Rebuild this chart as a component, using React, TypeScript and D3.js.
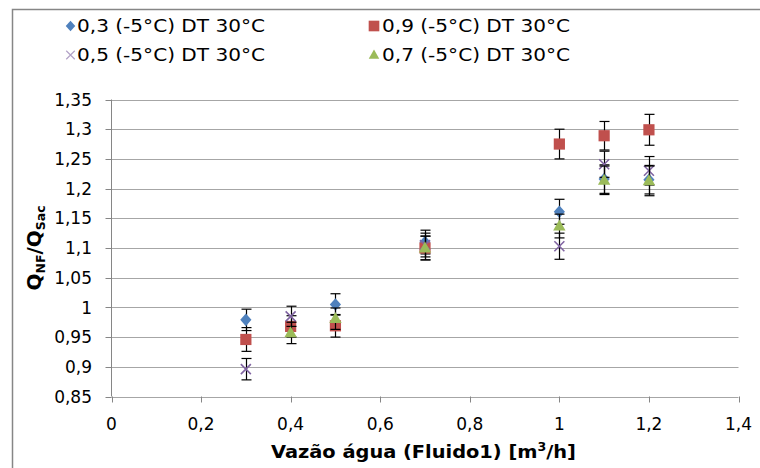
import React from "react";
import * as d3 from "d3";

const yTicks = [0.85, 0.9, 0.95, 1, 1.05, 1.1, 1.15, 1.2, 1.25, 1.3, 1.35];
const xTicks = [0, 0.2, 0.4, 0.6, 0.8, 1, 1.2, 1.4];

const s1X = [0.3, 0.5, 0.7, 1.0, 1.1, 1.2];
const s1Y = [0.979, 1.005, 1.11, 1.161, 1.216, 1.215];
const s1E = [0.018, 0.018, 0.02, 0.021, 0.024, 0.024];

const s2X = [0.3, 0.4, 0.5, 0.7, 1.0, 1.1, 1.2];
const s2Y = [0.946, 0.968, 0.969, 1.1, 1.275, 1.289, 1.299];
const s2E = [0.02, 0.018, 0.019, 0.02, 0.025, 0.024, 0.026];

const s3X = [0.3, 0.4, 0.7, 1.0, 1.1, 1.2];
const s3Y = [0.896, 0.985, 1.105, 1.103, 1.241, 1.23];
const s3E = [0.018, 0.017, 0.02, 0.022, 0.022, 0.024];

const s4X = [0.4, 0.5, 0.7, 1.0, 1.1, 1.2];
const s4Y = [0.957, 0.981, 1.1, 1.137, 1.214, 1.213];
const s4E = [0.018, 0.018, 0.02, 0.02, 0.024, 0.025];

const seriesNames = ["0,3 (-5°C) DT 30°C", "0,9 (-5°C) DT 30°C", "0,5 (-5°C) DT 30°C", "0,7 (-5°C) DT 30°C"];
const seriesColors = ["#4F81BD", "#C0504D", "#8064A2", "#9BBB59"];
const seriesShapes = ["diamond", "square", "x", "triangle"];

const fmt = (v: number) => String(+v.toFixed(2)).replace(".", ",");

function Marker({ shape, color, cx, cy, s = 1, sw = 1.6 }: any) {
  if (shape === "diamond") {
    const h = 6.3 * s, w = 5.6 * s;
    return <path d={`M${cx},${cy - h}L${cx + w},${cy}L${cx},${cy + h}L${cx - w},${cy}Z`} fill={color} />;
  }
  if (shape === "square") {
    const h = 5.6 * s;
    return <rect x={cx - h} y={cy - h} width={2 * h} height={2 * h} fill={color} />;
  }
  if (shape === "triangle") {
    const w = 6.2 * s, h = 11 * s;
    return <path d={`M${cx},${cy - h * 0.6}L${cx + w},${cy + h * 0.4}L${cx - w},${cy + h * 0.4}Z`} fill={color} />;
  }
  const r = 5 * s;
  return (
    <path d={`M${cx - r},${cy - r}L${cx + r},${cy + r}M${cx + r},${cy - r}L${cx - r},${cy + r}`} stroke={color} strokeWidth={sw} fill="none" />
  );
}

export default function App() {
  const W = 760, H = 468;
  const x = d3.scaleLinear().domain([0, 1.4]).range([111.5, 738.5]);
  const y = d3.scaleLinear().domain([0.85, 1.35]).range([396.5, 99.5]);
  const font = "'DejaVu Sans', Verdana, sans-serif";

  const series = [
    { xs: s1X, ys: s1Y, es: s1E },
    { xs: s2X, ys: s2Y, es: s2E },
    { xs: s3X, ys: s3Y, es: s3E },
    { xs: s4X, ys: s4Y, es: s4E },
  ];

  const legendPos = [
    [70.5, 26],
    [374, 26],
    [70.5, 55],
    [374, 55],
  ];

  return (
    <svg width={W} height={H} style={{ position: "absolute", left: 0, top: 0 }} fontFamily={font}>
      <rect x={0} y={0} width={W} height={H} fill="#fff" />
      <rect x={12.5} y={9.5} width={W + 10} height={H + 10} fill="none" stroke="#868686" strokeWidth={1.5} />

      {/* gridlines */}
      {yTicks.map((t) => (
        <line key={"g" + t} x1={x(0)} x2={x(1.4)} y1={Math.round(y(t)) + 0.5} y2={Math.round(y(t)) + 0.5} stroke="#a6a6a6" strokeWidth={1} />
      ))}
      {/* y axis */}
      <line x1={x(0)} x2={x(0)} y1={y(1.35)} y2={y(0.85)} stroke="#868686" />
      {yTicks.map((t) => (
        <line key={"yt" + t} x1={x(0) - 6} x2={x(0)} y1={Math.round(y(t)) + 0.5} y2={Math.round(y(t)) + 0.5} stroke="#868686" />
      ))}
      {xTicks.map((t) => (
        <line key={"xt" + t} x1={Math.round(x(t)) + 0.5} x2={Math.round(x(t)) + 0.5} y1={y(0.85)} y2={y(0.85) + 6} stroke="#868686" />
      ))}

      {yTicks.map((t) => (
        <text key={"yl" + t} x={92} y={y(t)} dy="0.36em" textAnchor="end" fontSize={17} fill="#000">
          {fmt(t)}
        </text>
      ))}
      {xTicks.map((t) => (
        <text key={"xl" + t} x={x(t)} y={430} textAnchor="middle" fontSize={17} fill="#000">
          {fmt(t)}
        </text>
      ))}

      {/* axis titles */}
      <text x={271} y={458} fontSize={18.5} fontWeight="bold" fill="#000" textLength={305} lengthAdjust="spacingAndGlyphs">
        Vazão água (Fluido1) [m<tspan dy={-7} fontSize={12}>3</tspan><tspan dy={7}>/h]</tspan>
      </text>
      <text transform="translate(41,248) rotate(-90)" textAnchor="middle" fontSize={20} fontWeight="bold" fill="#000">
        Q<tspan fontSize={12.5} dy={4}>NF</tspan><tspan dy={-4}>/Q</tspan><tspan fontSize={12.5} dy={4}>Sac</tspan>
      </text>

      {/* series */}
      {series.map((s, i) => (
        <g key={"s" + i}>
          {s.xs.map((xv, j) => {
            const cx = Math.round(x(xv)) + 0.5;
            const top = y(s.ys[j] + s.es[j]);
            const bot = y(s.ys[j] - s.es[j]);
            return (
              <g key={j} stroke="#000" strokeWidth={1.2}>
                <line x1={cx} x2={cx} y1={top} y2={bot} />
                <line x1={cx - 5} x2={cx + 5} y1={top} y2={top} />
                <line x1={cx - 5} x2={cx + 5} y1={bot} y2={bot} />
              </g>
            );
          })}
          {s.xs.map((xv, j) => (
            <Marker key={"m" + j} shape={seriesShapes[i]} color={seriesColors[i]} cx={x(xv)} cy={y(s.ys[j])} />
          ))}
        </g>
      ))}

      {/* legend */}
      {seriesNames.map((n, i) => (
        <g key={"l" + i}>
          <Marker shape={seriesShapes[i]} color={i === 2 ? "#b3a2c7" : seriesColors[i]} cx={legendPos[i][0]} cy={legendPos[i][1]} s={i === 1 ? 0.95 : 0.85} sw={1.2} />
          <text x={legendPos[i][0] + (i % 2 === 0 ? 6.5 : 8)} y={legendPos[i][1]} dy="0.36em" fontSize={18} fill="#000" textLength={188} lengthAdjust="spacingAndGlyphs">
            {n}
          </text>
        </g>
      ))}
    </svg>
  );
}
